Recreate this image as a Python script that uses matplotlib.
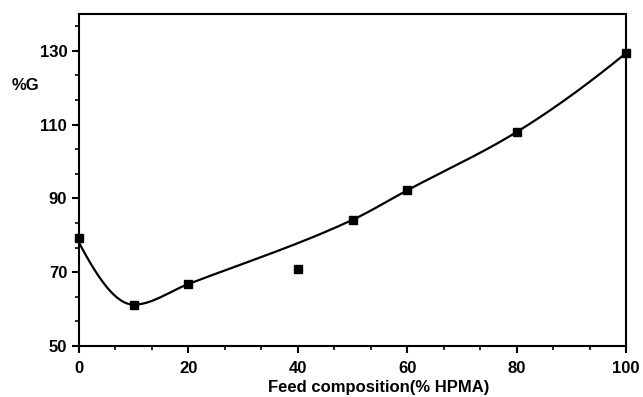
import numpy as np
import matplotlib
matplotlib.use("Agg")
import matplotlib.pyplot as plt
from matplotlib.ticker import MultipleLocator, AutoMinorLocator

# datos
hpma = [0, 10, 20, 40, 50, 60, 80, 100]
grafting = [79.2, 61.2, 66.8, 70.8, 84.2, 92.2, 108.0, 129.4]
# puntos por los que pasa la curva (el de 40 queda fuera)
curva_x = [0, 10, 20, 50, 60, 80, 100]
curva_y = [78.0, 61.2, 66.8, 84.2, 92.2, 108.0, 129.4]


def pchip(x, y, xs):
    # interpolacion hermite monotona (Fritsch-Carlson)
    x = np.asarray(x, float)
    y = np.asarray(y, float)
    h = np.diff(x)
    dlt = np.diff(y) / h
    n = len(x)
    m = np.zeros(n)
    for i in range(1, n - 1):
        if dlt[i - 1] * dlt[i] > 0:
            w1 = 2 * h[i] + h[i - 1]
            w2 = h[i] + 2 * h[i - 1]
            m[i] = (w1 + w2) / (w1 / dlt[i - 1] + w2 / dlt[i])
    m[0] = ((2 * h[0] + h[1]) * dlt[0] - h[0] * dlt[1]) / (h[0] + h[1])
    if np.sign(m[0]) != np.sign(dlt[0]):
        m[0] = 0
    m[-1] = ((2 * h[-1] + h[-2]) * dlt[-1] - h[-1] * dlt[-2]) / (h[-1] + h[-2])
    if np.sign(m[-1]) != np.sign(dlt[-1]):
        m[-1] = 0
    ys = np.empty_like(xs)
    for k, xv in enumerate(xs):
        i = int(np.clip(np.searchsorted(x, xv, side="right") - 1, 0, n - 2))
        t = (xv - x[i]) / h[i]
        h00 = 2 * t ** 3 - 3 * t ** 2 + 1
        h10 = t ** 3 - 2 * t ** 2 + t
        h01 = -2 * t ** 3 + 3 * t ** 2
        h11 = t ** 3 - t ** 2
        ys[k] = h00 * y[i] + h10 * h[i] * m[i] + h01 * y[i + 1] + h11 * h[i] * m[i + 1]
    return ys


plt.rcParams["font.family"] = ["Liberation Sans", "DejaVu Sans"]
plt.rcParams["font.weight"] = "bold"

fig = plt.figure(figsize=(6.43, 3.97), dpi=100)
ax = fig.add_axes([0.1229, 0.1285, 0.8507, 0.8362])

xs = np.linspace(0, 100, 400)
ax.plot(xs, pchip(curva_x, curva_y, xs), color="black", lw=1.6)
ax.plot(hpma, grafting, "s", color="black", ms=5.5, clip_on=False)

ax.set_xlim(0, 100)
ax.set_ylim(50, 140)
ax.xaxis.set_major_locator(MultipleLocator(20))
ax.xaxis.set_minor_locator(AutoMinorLocator(3))
ax.yaxis.set_minor_locator(AutoMinorLocator(3))
ax.set_yticks([50, 70, 90, 110, 130])
ax.tick_params(which="major", direction="out", length=5, width=1.5, labelsize=12)
ax.tick_params(axis="x", which="major", pad=6)
ax.tick_params(which="minor", direction="out", length=3, width=1.2)
for s in ax.spines.values():
    s.set_linewidth(1.5)

fig.text(0.589, 0.024, "Feed composition(% HPMA)", fontsize=12, fontweight="bold",
         ha="center", va="center")
fig.text(0.04, 0.785, "%G", fontsize=12, fontweight="bold", ha="center", va="center")

fig.savefig("out.png", dpi=100)
